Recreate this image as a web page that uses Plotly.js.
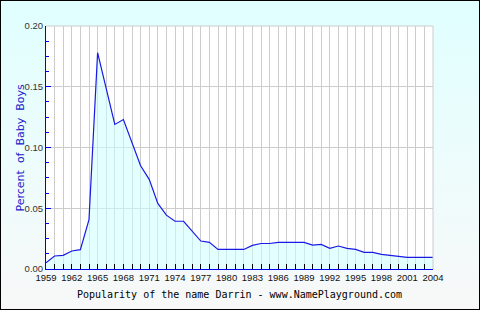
<!DOCTYPE html>
<html>
<head>
<meta charset="utf-8">
<script src="https://cdn.plot.ly/plotly-3.0.1.min.js"></script>
<style>
  html, body { margin: 0; padding: 0; }
  #wrap {
    width: 480px; height: 310px; position: relative;
    background: linear-gradient(to bottom, #e0ffff 0%, #eefcfc 55%, #f8f8f8 100%);
    box-shadow: inset 0 0 0 1px #000;
  }
  #chart { width: 480px; height: 310px; }
</style>
</head>
<body>
<div id="wrap"><div id="chart"></div></div>
<script>
const years = [1959,1960,1961,1962,1963,1964,1965,1966,1967,1968,1969,1970,1971,1972,1973,1974,1975,1976,1977,1978,1979,1980,1981,1982,1983,1984,1985,1986,1987,1988,1989,1990,1991,1992,1993,1994,1995,1996,1997,1998,1999,2000,2001,2002,2003,2004];
const percents = [0.0052,0.0107,0.0112,0.0148,0.0159,0.0407,0.1780,0.1480,0.1190,0.1230,0.1040,0.0850,0.0738,0.0540,0.0443,0.0393,0.0393,0.0310,0.0230,0.0219,0.0161,0.0161,0.0161,0.0161,0.0194,0.0210,0.0210,0.0219,0.0219,0.0219,0.0219,0.0197,0.0202,0.0170,0.0189,0.0170,0.0161,0.0137,0.0137,0.0120,0.0112,0.0104,0.0096,0.0096,0.0096,0.0096];
const xTickVals = [1959,1962,1965,1968,1971,1974,1977,1980,1983,1986,1989,1992,1995,1998,2001,2004];
const xTickLabels = ['1959','1962','1965','1968','1971','1974','1977','1980','1983','1986','1989','1992','1995','1998','2001','2004'];
const yTickVals = [0, 0.05, 0.10, 0.15, 0.20];
const yTickLabels = ['0.00','0.05','0.10','0.15','0.20'];
const chartTitle = 'Popularity of the name Darrin - www.NamePlayground.com';
const yTitle = 'Percent  of  Baby  Boys';

const trace = {
  x: years, y: percents, type: 'scatter', mode: 'lines',
  fill: 'tozeroy', fillcolor: 'rgba(205,255,255,0.55)',
  line: { color: '#1a1ae6', width: 1.2 },
  hoverinfo: 'skip'
};

const layout = {
  width: 480, height: 310,
  margin: { l: 46, r: 47, t: 26, b: 41 },
  paper_bgcolor: 'rgba(0,0,0,0)',
  plot_bgcolor: '#ffffff',
  showlegend: false,
  xaxis: {
    range: [1959, 2004], fixedrange: true,
    tickvals: xTickVals, ticktext: xTickLabels,
    ticks: 'inside', ticklen: 5, tickcolor: '#000', tickwidth: 1,
    showgrid: true, gridcolor: '#cccccc', gridwidth: 1,
    minor: { dtick: 1, tick0: 1959, ticks: 'inside', ticklen: 5, tickcolor: '#000', showgrid: true, gridcolor: '#cccccc', gridwidth: 1 },
    showline: true, linecolor: '#0000ee', linewidth: 1,
    zeroline: false,
    tickfont: { family: 'Liberation Sans, Arial, sans-serif', size: 9.5, color: '#111' },
    title: { text: chartTitle, font: { family: 'DejaVu Sans Mono, monospace', size: 10, color: '#000' }, standoff: 8 }
  },
  yaxis: {
    range: [0, 0.2], fixedrange: true,
    tickvals: yTickVals, ticktext: yTickLabels,
    ticks: 'inside', ticklen: 5, tickcolor: '#0000ee', tickwidth: 1,
    showgrid: true, gridcolor: '#cccccc', gridwidth: 1,
    minor: { dtick: 0.0125, tick0: 0, ticks: 'inside', ticklen: 3, tickcolor: '#0000ee', showgrid: false },
    showline: true, linecolor: '#0000ee', linewidth: 1,
    zeroline: false,
    tickfont: { family: 'Liberation Sans, Arial, sans-serif', size: 9.5, color: '#333' },
    title: { text: '' }
  },
  annotations: [
    { text: yTitle, xref: 'paper', yref: 'paper', x: 0, y: 0.5, xanchor: 'center', yanchor: 'middle',
      xshift: -26, textangle: -90, showarrow: false,
      font: { family: 'DejaVu Sans, Verdana, sans-serif', size: 11, color: '#2020cc' } }
  ],
  shapes: [
    { type: 'line', xref: 'paper', yref: 'paper', x0: 0, x1: 1, y0: 1, y1: 1, line: { color: '#cccccc', width: 1 } },
    { type: 'line', xref: 'paper', yref: 'paper', x0: 1, x1: 1, y0: 0, y1: 1, line: { color: '#cccccc', width: 1 } }
  ]
};

Plotly.newPlot('chart', [trace], layout, { staticPlot: true, displayModeBar: false });
</script>
</body>
</html>
